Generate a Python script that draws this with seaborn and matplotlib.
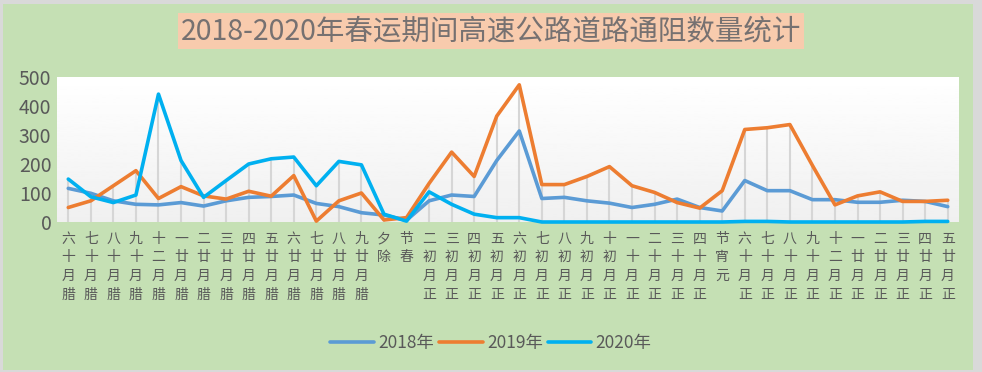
import numpy as np
import pandas as pd
import seaborn as sns
import matplotlib.pyplot as plt
from matplotlib.patches import Rectangle

# data
days = ["腊月十六", "腊月十七", "腊月十八", "腊月十九", "腊月二十", "腊月廿一", "腊月廿二",
        "腊月廿三", "腊月廿四", "腊月廿五", "腊月廿六", "腊月廿七", "腊月廿八", "腊月廿九",
        "除夕", "春节", "正月初二", "正月初三", "正月初四", "正月初五", "正月初六",
        "正月初七", "正月初八", "正月初九", "正月初十", "正月十一", "正月十二", "正月十三",
        "正月十四", "元宵节", "正月十六", "正月十七", "正月十八", "正月十九", "正月二十",
        "正月廿一", "正月廿二", "正月廿三", "正月廿四", "正月廿五"]
y2018 = [116, 99, 73, 61, 59, 67, 55, 73, 85, 88, 93, 64, 53, 32,
         24, 6, 73, 93, 88, 212, 314, 81, 85, 73, 65, 50, 61, 79,
         50, 38, 143, 108, 108, 77, 77, 68, 68, 75, 71, 53]
y2019 = [50, 73, 125, 177, 81, 122, 90, 79, 106, 89, 160, 3, 73, 100,
         7, 15, 133, 241, 157, 365, 473, 129, 129, 157, 191, 125, 102, 67,
         48, 108, 319, 325, 336, 195, 59, 90, 104, 71, 71, 75]
y2020 = [148, 87, 67, 93, 441, 212, 85, 143, 200, 218, 224, 125, 209, 197,
         27, 3, 104, 61, 27, 15, 15, 0, 0, 0, 0, 0, 0, 0,
         0, 0, 2, 2, 0, 0, 0, 0, 0, 0, 2, 2]
years = ["2018年", "2019年", "2020年"]
colors = ["#5B9BD5", "#ED7D31", "#00B0F0"]
title = "2018-2020年春运期间高速公路道路通阻数量统计"

pos = np.arange(len(days))
df = pd.DataFrame({
    "pos": np.tile(pos, 3),
    "count": y2018 + y2019 + y2020,
    "year": np.repeat(years, len(days)),
})

sns.set_theme(style="white")
plt.rcParams["font.family"] = ["Noto Sans CJK SC", "DejaVu Sans"]
txt = "#595959"

dpi = 100
fig = plt.figure(figsize=(982 / dpi, 372 / dpi), dpi=dpi)
fig.patch.set_facecolor("#D9D9D9")
fig.patches.append(Rectangle((3 / 982, 2 / 372), 970 / 982, 366 / 372,
                             transform=fig.transFigure, facecolor="#C5E0B4",
                             edgecolor="none", zorder=-5))

ax = fig.add_axes([57 / 982, 150 / 372, 902 / 982, 145 / 372])
ax.set_facecolor("none")

# gradient plot area, white on top to light grey at the bottom
grad = np.linspace(1.0, 0.94, 100).reshape(-1, 1)
ax.imshow(grad, cmap="gray", vmin=0, vmax=1, aspect="auto",
          extent=(-0.5, 39.5, 0, 500), origin="upper", zorder=0)

# drop lines from the highest point to the axis
top = np.max([y2018, y2019, y2020], axis=0)
ax.vlines(pos, 0, top, color="#D6D6D6", lw=1.5, zorder=1)

sns.lineplot(data=df, x="pos", y="count", hue="year", palette=colors,
             linewidth=2.6, ax=ax, legend=True, zorder=3)
for ln in ax.lines:
    ln.set_clip_on(False)

ax.set_xlim(-0.5, 39.5)
ax.set_ylim(0, 500)
ax.set_yticks(range(0, 501, 100))
ax.set_xticks(pos)
ax.set_xticklabels(["\n".join(reversed(d)) for d in days], va="top",
                   linespacing=1.42, fontsize=10, color=txt)
ax.tick_params(axis="y", labelsize=14, colors=txt, pad=4, length=0)
ax.tick_params(axis="x", pad=7, length=0)
ax.set_xlabel("")
ax.set_ylabel("")
sns.despine(ax=ax, left=True, bottom=True)

handles, labels = ax.get_legend_handles_labels()
ax.legend_.remove()
fig.legend(handles, labels, loc="center", bbox_to_anchor=(0.5, 29 / 372),
           ncol=3, frameon=False, fontsize=12.5, labelcolor=txt,
           handlelength=2.5, handletextpad=0.25, columnspacing=0.3)

fig.text(491 / 982, 1 - 31 / 372, title, ha="center", va="center",
         fontsize=20.5, color="#767171",
         bbox=dict(facecolor="#F8CBAD", edgecolor="none", pad=2))

plt.savefig("out.png", dpi=dpi, facecolor=fig.get_facecolor())
